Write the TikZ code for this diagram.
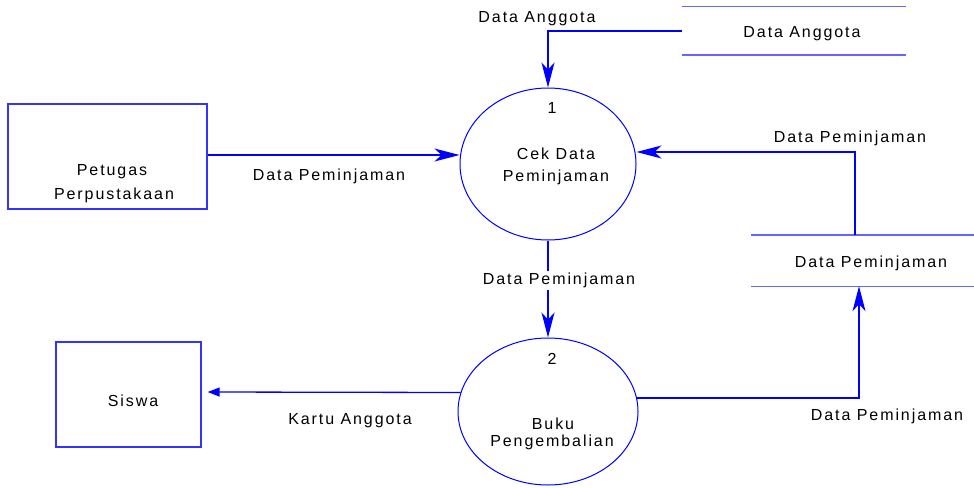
\documentclass[tikz,border=0pt]{standalone}
\usepackage{fontspec}
\setmainfont{Liberation Sans}[LetterSpace=12]
\usetikzlibrary{shapes.geometric,arrows.meta}
\begin{document}
\begin{tikzpicture}[x=1pt,y=-1pt,
  font=\fontsize{16}{19}\selectfont,
  proc/.style={ellipse, draw=blue, line width=1pt, inner sep=0pt},
  ent/.style={rectangle, draw=blue!80, line width=1.3pt, inner sep=0pt},
  store/.style={rectangle, inner sep=0pt},
  storeline/.style={draw=blue!60, line width=1.4pt},
  flow/.style={draw=blue, line width=1.3pt, -{Stealth[length=25pt,width=13pt,inset=7pt]}},
  flowsmall/.style={draw=blue, line width=1.3pt, -{Stealth[length=12pt,width=9pt,inset=0pt]}},
  txt/.style={inner sep=0pt, anchor=base, text=black},
  lbl/.style={inner sep=0pt, anchor=base, text=black}]
\useasboundingbox (0,0) rectangle (974,487);

% processes
\node[proc, minimum width=176, minimum height=152] (p1) at (548,164) {};
\node[proc, minimum width=180, minimum height=147] (p2) at (548,411.5) {};
% external entities
\node[ent, minimum width=199, minimum height=105] (e1) at (107.5,156.5) {};
\node[ent, minimum width=145, minimum height=105] (e2) at (128.5,394.5) {};
% data stores
\node[store, minimum width=224, minimum height=48] (s1) at (794,31) {};
\draw[storeline] (s1.north west) -- (s1.north east) (s1.south west) -- (s1.south east);
\node[store, minimum width=223, minimum height=51] (s2) at (862.5,260.5) {};
\draw[storeline] (s2.north west) -- (s2.north east) (s2.south west) -- (s2.south east);

% texts in shapes
\node[txt] (p1n) at (552,113.3) {1};
\node[txt] (p1a) at (556,159.3) {Cek Data};
\node[txt] (p1b) at (556,181.7) {Peminjaman};
\node[txt] (p2n) at (552,364.3) {2};
\node[txt] (p2a) at (553,429.3) {Buku};
\node[txt] (p2b) at (552,446.7) {Pengembalian};
\node[txt] (e1a) at (112,175.7) {Petugas};
\node[txt] (e1b) at (114,199.3) {Perpustakaan};
\node[txt] (e2a) at (133,406.7) {Siswa};
\node[txt] (s1t) at (802,37.7) {Data Anggota};
\node[txt] (s2t) at (871,267.3) {Data Peminjaman};

% flows
\draw[flow] (s1.west) -| (p1.north);
\draw[flow] ([yshift=1.5pt]e1.east) -- ([yshift=1.5pt]e1.east -| p1.west);
\draw[flow] ([xshift=-7.5pt]s2.north) |- ([yshift=12pt]p1.east);
\draw[flow] (p1.south) -- (p2.north);
\draw[flowsmall] ([xshift=3pt,yshift=19pt]p2.west) -- ([xshift=6pt,yshift=2.5pt]e2.east);
\draw[flow] ([xshift=-1.5pt,yshift=13.5pt]p2.east) -| ([xshift=-3.5pt]s2.south);

% flow labels
\node[lbl] (l1) at (537,22.7) {Data Anggota};
\node[lbl] (l2) at (329,180.7) {Data Peminjaman};
\node[lbl] (l3) at (850,142.3) {Data Peminjaman};
\node[lbl, fill=white, inner sep=2pt] (l4) at (559,284.3) {Data Peminjaman};
\node[lbl] (l5) at (350,424.3) {Kartu Anggota};
\node[lbl] (l6) at (887,420) {Data Peminjaman};
\end{tikzpicture}
\end{document}
